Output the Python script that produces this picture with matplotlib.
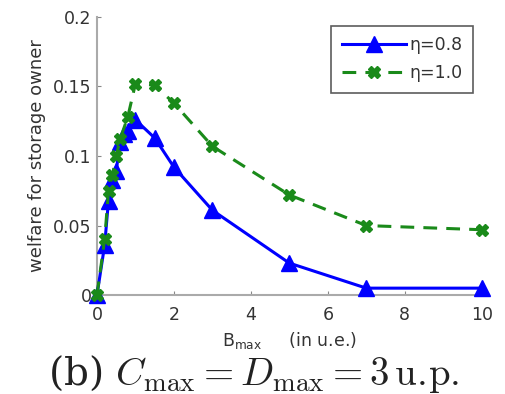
import matplotlib
matplotlib.use("Agg")
import matplotlib.pyplot as plt

x08 = [0, 0.2, 0.3, 0.4, 0.5, 0.6, 0.7, 0.8, 1.0, 1.5, 2, 3, 5, 7, 10]
y08 = [0, 0.036, 0.068, 0.083, 0.089, 0.110, 0.116, 0.118, 0.126, 0.113, 0.092, 0.061, 0.023, 0.005, 0.005]
x10 = [0, 0.2, 0.3, 0.4, 0.5, 0.6, 0.8, 1.0, 1.5, 2, 3, 5, 7, 10]
y10 = [0, 0.040, 0.075, 0.086, 0.100, 0.112, 0.128, 0.152, 0.151, 0.138, 0.107, 0.072, 0.050, 0.047]
labels = ["η=0.8", "η=1.0"]
xticks = [0, 2, 4, 6, 8, 10]
yticks = [0, 0.05, 0.1, 0.15, 0.2]
ytick_labels = ["0", "0.05", "0.1", "0.15", "0.2"]

fig = plt.figure(figsize=(5.05, 3.94), dpi=100)
ax = fig.add_axes([0.192, 0.251, 0.762, 0.706])
ax.plot(x08, y08, color="#0000ff", lw=2.2, marker="^", ms=12, label=labels[0], clip_on=False, zorder=3)
ax.plot(x10, y10, color="#1a8a1a", lw=2.2, ls=(0, (4.5, 3)), marker="X", ms=8, label=labels[1], clip_on=False, zorder=4)
ax.set_xlim(0, 10)
ax.set_ylim(0, 0.2)
ax.set_xticks(xticks)
ax.set_xticklabels([str(t) for t in xticks])
ax.set_yticks(yticks)
ax.set_yticklabels(ytick_labels)
for s in ["top", "right"]:
    ax.spines[s].set_visible(False)
for s in ["left", "bottom"]:
    ax.spines[s].set_color("#aaaaaa")
    ax.spines[s].set_linewidth(1.5)
ax.tick_params(direction="in", length=3, color="#888888", labelsize=12.5, labelcolor="#333333")
ax.tick_params(axis="x", pad=8)
ax.tick_params(axis="y", pad=4)
ax.set_ylabel("welfare for storage owner", fontsize=13, color="#333333", labelpad=5)
ax.set_xlabel(r"B$_{\mathregular{max}}$     (in u.e.)", fontsize=12.5, color="#333333", labelpad=4.5)
leg = ax.legend(loc="upper right", fontsize=12.5, frameon=True,
                fancybox=False, edgecolor="#333333", handlelength=3.7, borderpad=0.6,
                labelspacing=0.6, handletextpad=0.2, borderaxespad=0.5)
leg.get_frame().set_linewidth(1.2)
for t in leg.get_texts():
    t.set_color("#333333")
fig.text(0.503, 0.023, r"(b) $C_{\max} = D_{\max} = 3\,\mathrm{u.\!p.}$", ha="center", va="baseline",
         fontsize=28, family="serif", math_fontfamily="cm", color="#222222")
fig.savefig("out.png", dpi=100)
